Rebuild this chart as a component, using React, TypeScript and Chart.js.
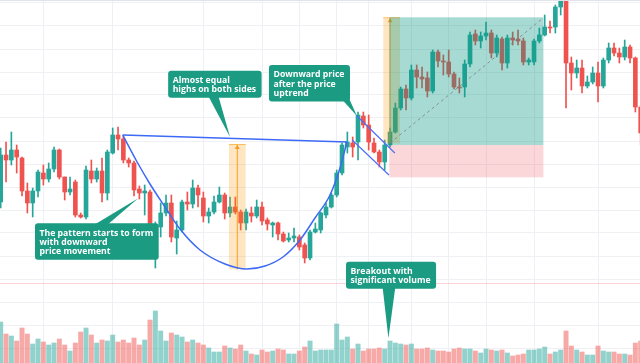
import React, { useEffect, useRef } from 'react';
import { Chart, registerables } from 'chart.js';

Chart.register(...registerables);

// ---- Candles (one per bar, index 0..120) ----
const openPrice = [161,208,203,213,205,172,160,172,190,184, 194,213,186,171,181,148,146,192,184,192, 170,210,228,224,203,200,174,170,171,129, 136,150,160,125,133,161,159,175,165,147, 151,161,168,150,156,151,140,150,147,156, 143,138,140,129,123,125,126,118,105,131, 133,148,156,168,190,216,220,221,247,238, 220,211,201,218,231,255,274,265,293,286, 285,272,311,302,301,289,276,276,299,329, 322,327,330,310,324,300,325,324,322,301, 301,322,328,336,336,356,362,300,290,295, 277,281,290,277,303,315,310,306,316,305, 256];
const closePrice = [208,203,213,206,172,160,172,191,184,194, 213,186,171,174,148,146,193,184,192,170, 211,228,224,203,200,173,170,172,137,137, 150,160,126,133,161,159,175,168,147,151, 161,168,150,156,151,140,151,147,156,142, 139,140,129,122,125,127,116,105,131,134, 150,156,168,190,218,221,216,248,238,221, 211,201,218,231,255,274,265,293,286,284, 272,311,302,301,289,276,275,299,328,322, 327,330,310,325,300,325,323,322,301,303, 322,328,336,335,356,362,300,290,295,277, 281,290,277,303,315,310,306,316,305,256, 230];
const highPrice = [215,221,231,218,206,180,175,193,198,200, 216,214,186,186,183,150,197,203,195,205, 213,235,236,227,205,202,177,178,173,141, 160,168,168,142,163,171,183,178,171,155, 167,176,170,166,166,153,154,156,163,161, 145,141,141,131,130,135,128,120,133,140, 151,160,170,193,220,231,226,251,251,248, 225,213,223,235,260,276,278,298,298,296, 291,313,313,308,313,291,285,303,331,333, 331,341,333,328,326,328,331,333,325,305, 324,335,348,342,358,363,363,306,303,303, 287,296,301,305,320,320,315,323,318,306, 258];
const lowPrice = [155,181,198,190,167,150,146,166,178,181, 191,184,163,168,146,145,144,180,181,161, 163,209,213,200,196,167,164,148,135,95, 126,147,121,109,131,153,155,156,141,140, 149,160,144,146,149,133,133,141,145,138, 133,126,123,121,121,121,113,100,103,130, 130,145,155,166,188,210,206,203,235,213, 210,196,193,216,230,253,253,263,275,275, 266,270,296,288,286,274,270,266,296,318, 315,323,305,306,293,295,318,318,298,298, 298,320,327,330,330,348,255,273,285,270, 275,279,261,275,300,307,300,303,300,251, 218];
const volume = [41,29,27,22,35,29,19,24,21,18, 20,24,18,12,20,31,35,28,20,23, 22,28,21,23,20,25,18,23,43,52, 32,22,30,28,26,21,23,20,18,15, 11,11,17,15,14,18,12,9,8,13, 11,12,14,13,9,9,12,16,22,12, 13,13,13,39,23,26,14,19,12,14, 14,15,14,22,20,19,18,19,14,14, 15,13,12,12,11,14,15,14,14,12, 10,14,13,12,13,10,7,8,9,13, 13,14,16,9,11,13,32,17,13,11, 8,8,17,12,11,11,9,9,8,20,22];

// ---- Grid tick values ----
const gridPrices = [15, 38, 61, 84, 107, 130, 153, 176, 199, 222, 245, 268, 291, 314, 337, 360];
const gridBars = [8, 21, 38, 49, 56, 63, 69, 77, 84, 91, 100, 112];

// ---- Drawings (bar index, price) ----
const cupBars = [22.88, 25.37, 27.99, 30.81, 33.62, 37.37, 42.06, 46.18, 49.56, 52.93, 56.12, 58.93, 61.75, 63.62, 64.93];
const cupPrices = [228, 203, 179, 156, 134, 113, 99, 94, 97, 106, 123, 145, 168, 195, 221];
const necklineBars = [22.88, 64.93];
const necklinePrices = [228, 221];
const channelTopBars = [66.8, 73.9];
const channelTopPrices = [247, 210];
const channelBottomBars = [65.9, 72.8];
const channelBottomPrices = [223, 188];
const projectionBars = [73.0, 101.7];
const projectionPrices = [220, 345];

const rangeBoxes = [
  { from: 42.8, to: 45.94, marker: 44.36, low: 93.7, high: 219 },
  { from: 71.74, to: 74.87, marker: 73.0, low: 219.7, high: 345.7 },
];
const longPosition = { from: 72.87, to: 101.75, entry: 218, target: 345.7, stop: 185.7 };
const priceLine = 79.7;

const callouts = [
  { lines: ['The pattern starts to form', 'with downward', 'price movement'], bar: 6.43, price: 139.7, tip: [25.8, 164.7], base: [17.4, 19.9], side: 'top' },
  { lines: ['Almost equal', 'highs on both sides'], bar: 31.4, price: 292.3, tip: [43.0, 226], base: [38.9, 40.8], side: 'bottom' },
  { lines: ['Downward price', 'after the price', 'uptrend'], bar: 50.3, price: 298, tip: [66.8, 247], base: [64.0, 65.4], side: 'bottom' },
  { lines: ['Breakout with', 'significant volume'], bar: 64.75, price: 101.3, tip: [72.7, 24.7], base: [71.6, 74.0], side: 'bottom' },
];

const UP = '#26a69a';
const DOWN = '#ef5350';
const UP_VOL = 'rgba(38,166,154,0.5)';
const DOWN_VOL = 'rgba(239,83,80,0.5)';
const CALLOUT = '#1a9b82';
const CALLOUT_FONT = '700 8.7px "Open Sans"';
const LINE_H = 9.3;
const BODY_DATASET = 2;

function pts(xs: number[], ys: number[]) {
  return xs.map((x, i) => ({ x, y: ys[i] }));
}

const annotationPlugin = {
  id: 'patternAnnotations',
  beforeDatasetsDraw(chart: any) {
    const { ctx, chartArea, scales } = chart;
    const y = Math.round(scales.y.getPixelForValue(priceLine)) + 0.5;
    ctx.save();
    ctx.strokeStyle = 'rgba(242,54,69,0.22)';
    ctx.lineWidth = 1;
    ctx.beginPath();
    ctx.moveTo(chartArea.left, y);
    ctx.lineTo(chartArea.right, y);
    ctx.stroke();
    ctx.restore();
  },
  afterDatasetDraw(chart: any, args: any) {
    if (args.index !== BODY_DATASET) return;
    const { ctx, scales } = chart;
    const xs = scales.x, ys = scales.y;
    ctx.save();
    rangeBoxes.forEach((b) => {
      const l = xs.getPixelForValue(b.from), r = xs.getPixelForValue(b.to);
      const t = ys.getPixelForValue(b.high), bt = ys.getPixelForValue(b.low);
      ctx.fillStyle = 'rgba(255,152,0,0.24)';
      ctx.fillRect(l, t, r - l, bt - t);
      ctx.fillStyle = 'rgba(255,152,0,0.55)';
      ctx.fillRect(l, t, r - l, 1);
      const mx = xs.getPixelForValue(b.marker);
      ctx.strokeStyle = 'rgba(245,150,20,0.9)';
      ctx.lineWidth = 1;
      ctx.beginPath();
      ctx.moveTo(mx, bt);
      ctx.lineTo(mx, t + 1);
      ctx.stroke();
      ctx.fillStyle = 'rgba(245,150,20,0.9)';
      ctx.beginPath();
      ctx.moveTo(mx - 2.5, t + 5);
      ctx.lineTo(mx, t + 1);
      ctx.lineTo(mx + 2.5, t + 5);
      ctx.closePath();
      ctx.fill();
    });
    const pl = xs.getPixelForValue(longPosition.from), pr = xs.getPixelForValue(longPosition.to);
    const pt = ys.getPixelForValue(longPosition.target), pe = ys.getPixelForValue(longPosition.entry), ps = ys.getPixelForValue(longPosition.stop);
    ctx.fillStyle = 'rgba(8,153,129,0.36)';
    ctx.fillRect(pl, pt, pr - pl, pe - pt);
    ctx.fillStyle = 'rgba(242,54,69,0.2)';
    ctx.fillRect(pl, pe, pr - pl, ps - pe);
    ctx.restore();
  },
  afterDraw(chart: any) {
    const { ctx, scales, chartArea } = chart;
    const xs = scales.x, ys = scales.y;
    ctx.save();
    ctx.fillStyle = '#e0e3eb';
    ctx.fillRect(chartArea.left, chartArea.top, chartArea.right - chartArea.left, 1);
    ctx.font = CALLOUT_FONT;
    callouts.forEach((c) => {
      const w = Math.max(...c.lines.map((l) => ctx.measureText(l).width)) + 10;
      const h = c.lines.length * LINE_H + 8.5;
      const left = xs.getPixelForValue(c.bar);
      const top = ys.getPixelForValue(c.price);
      const tx = xs.getPixelForValue(c.tip[0]), ty = ys.getPixelForValue(c.tip[1]);
      const b0 = xs.getPixelForValue(c.base[0]), b1 = xs.getPixelForValue(c.base[1]);
      const edge = c.side === 'top' ? top + 2 : top + h - 2;
      ctx.fillStyle = CALLOUT;
      ctx.beginPath();
      ctx.moveTo(b0, edge);
      ctx.lineTo(tx, ty);
      ctx.lineTo(b1, edge);
      ctx.closePath();
      ctx.fill();
      ctx.beginPath();
      (ctx as any).roundRect(left, top, w, h, 3);
      ctx.fill();
      ctx.fillStyle = '#ffffff';
      ctx.textBaseline = 'middle';
      ctx.textAlign = 'left';
      c.lines.forEach((line, i) => {
        ctx.fillText(line, left + 4.5, top + 5.2 + LINE_H * (i + 0.5));
      });
    });
    ctx.restore();
  },
};

export default function App() {
  const ref = useRef<HTMLCanvasElement>(null);
  useEffect(() => {
    document.body.style.margin = '0';
    const idx = openPrice.map((_, i) => i);
    const up = idx.map((i) => closePrice[i] >= openPrice[i]);
    const chart = new Chart(ref.current as HTMLCanvasElement, {
      type: 'bar',
      data: {
        datasets: [
          {
            type: 'bar',
            label: 'Volume',
            data: idx.map((i) => ({ x: i, y: volume[i] })),
            yAxisID: 'yVol',
            backgroundColor: idx.map((i) => (up[i] ? UP_VOL : DOWN_VOL)),
            barThickness: 4.3,
            grouped: false,
            order: 4,
          } as any,
          {
            type: 'bar',
            label: 'Wicks',
            data: idx.map((i) => ({ x: i, y: [lowPrice[i], highPrice[i]] })),
            backgroundColor: idx.map((i) => (up[i] ? UP : DOWN)),
            barThickness: 1,
            grouped: false,
            order: 3,
          } as any,
          {
            type: 'bar',
            label: 'Bodies',
            data: idx.map((i) => ({ x: i, y: [openPrice[i], closePrice[i]] })),
            backgroundColor: idx.map((i) => (up[i] ? UP : DOWN)),
            barThickness: 4,
            minBarLength: 1,
            grouped: false,
            order: 2,
          } as any,
          {
            type: 'line',
            label: 'Cup',
            data: pts(cupBars, cupPrices),
            borderColor: '#3d6af5',
            borderWidth: 1.5,
            pointRadius: 0,
            cubicInterpolationMode: 'monotone',
            fill: false,
            order: 0,
          } as any,
          {
            type: 'line',
            label: 'Neckline',
            data: pts(necklineBars, necklinePrices),
            borderColor: '#3d6af5',
            borderWidth: 1.5,
            pointRadius: 0,
            fill: false,
            order: 0,
          } as any,
          {
            type: 'line',
            label: 'Channel top',
            data: pts(channelTopBars, channelTopPrices),
            borderColor: '#4f6ef7',
            borderWidth: 1.2,
            pointRadius: 0,
            fill: false,
            order: 0,
          } as any,
          {
            type: 'line',
            label: 'Channel bottom',
            data: pts(channelBottomBars, channelBottomPrices),
            borderColor: '#4f6ef7',
            borderWidth: 1.2,
            pointRadius: 0,
            fill: false,
            order: 0,
          } as any,
          {
            type: 'line',
            label: 'Projection',
            data: pts(projectionBars, projectionPrices),
            borderColor: 'rgba(120,123,134,0.75)',
            borderWidth: 1,
            borderDash: [3, 3],
            pointRadius: 0,
            fill: false,
            order: 0,
          } as any,
        ],
      },
      options: {
        animation: false,
        responsive: true,
        maintainAspectRatio: false,
        events: [],
        layout: { padding: 0 },
        plugins: { legend: { display: false }, tooltip: { enabled: false } },
        scales: {
          x: {
            type: 'linear',
            min: -0.13,
            max: 119.87,
            offset: false,
            bounds: 'data',
            grid: { color: '#eef0f4', drawTicks: false, offset: false },
            border: { display: false },
            ticks: { display: false },
            afterBuildTicks: (axis: any) => {
              axis.ticks = gridBars.map((v) => ({ value: v }));
            },
          },
          y: {
            type: 'linear',
            min: 0,
            max: 363,
            grid: { color: '#eef0f4', drawTicks: false },
            border: { display: false },
            ticks: { display: false },
            afterBuildTicks: (axis: any) => {
              axis.ticks = gridPrices.map((v) => ({ value: v }));
            },
          },
          yVol: {
            type: 'linear',
            min: 0,
            max: 363,
            display: false,
          },
        },
      } as any,
      plugins: [annotationPlugin],
    });
    return () => chart.destroy();
  }, []);
  return (
    <div style={{ position: 'relative', width: 640, height: 363 }}>
      <canvas ref={ref} />
    </div>
  );
}
